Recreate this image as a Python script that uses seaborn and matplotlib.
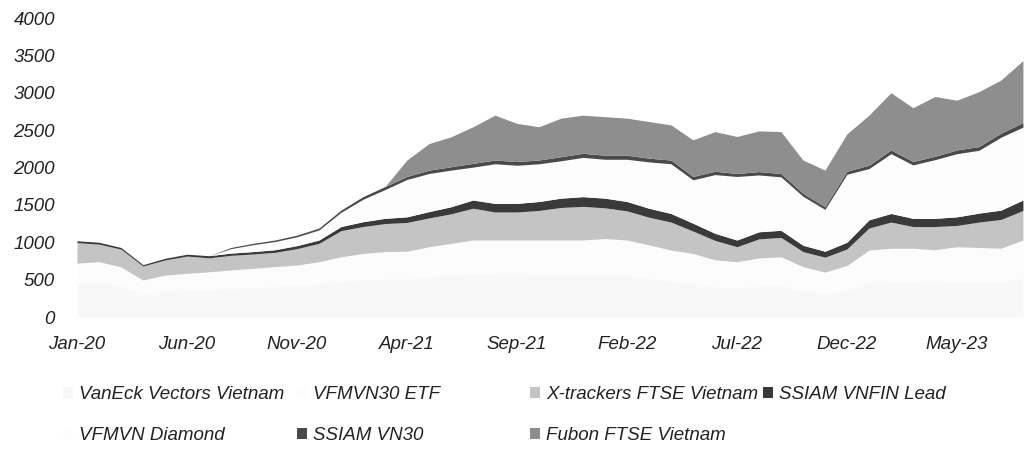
import numpy as np
import pandas as pd
import matplotlib
matplotlib.use("Agg")
import matplotlib.pyplot as plt
from matplotlib.patches import Patch
import seaborn as sns

# --- data (monthly, Jan-20 .. Aug-23) ---
funds = ["VanEck Vectors Vietnam", "VFMVN30 ETF", "X-trackers FTSE Vietnam",
         "SSIAM VNFIN Lead", "VFMVN Diamond", "SSIAM VN30", "Fubon FTSE Vietnam"]

tick_labels = ["Jan-20", "Jun-20", "Nov-20", "Apr-21", "Sep-21",
               "Feb-22", "Jul-22", "Dec-22", "May-23"]

vaneck = [450, 460, 420, 310, 345, 360, 370, 385, 395, 410, 420, 445, 480, 500, 510,
          510, 540, 560, 580, 575, 570, 565, 560, 555, 565, 550, 515, 475, 450, 405,
          390, 415, 420, 350, 310, 355, 460, 470, 470, 460, 480, 475, 470, 525]
vfmvn30 = [270, 280, 250, 185, 215, 225, 235, 245, 255, 265, 275, 295, 325, 350, 365,
           370, 400, 425, 450, 455, 460, 465, 470, 475, 485, 480, 450, 420, 400, 360,
           350, 375, 385, 325, 290, 335, 435, 450, 450, 440, 460, 455, 450, 505]
xtrackers = [275, 235, 238, 187, 203, 230, 187, 195, 193, 190, 220, 245, 350, 360, 375,
             385, 385, 395, 425, 375, 375, 395, 435, 450, 410, 390, 370, 375, 300, 260,
             200, 255, 260, 200, 200, 220, 295, 350, 290, 310, 285, 340, 385, 395]
vnfin = [25, 25, 22, 18, 22, 25, 28, 30, 32, 35, 40, 45, 55, 65, 70,
         75, 85, 95, 110, 115, 115, 120, 125, 130, 130, 125, 120, 115, 105, 95,
         90, 95, 95, 85, 80, 90, 110, 115, 110, 110, 115, 120, 125, 140]
diamond = [0, 0, 0, 0, 0, 0, 0, 60, 92, 110, 118, 135, 190, 300, 385,
           500, 510, 490, 440, 530, 510, 505, 500, 525, 520, 565, 620, 665, 580, 785,
           850, 760, 715, 655, 560, 910, 685, 800, 715, 785, 845, 840, 975, 975]
vn30 = [0, 0, 0, 0, 0, 0, 0, 15, 18, 20, 22, 25, 30, 35, 40,
        40, 45, 45, 50, 50, 50, 50, 55, 55, 55, 55, 50, 50, 45, 45,
        40, 45, 45, 40, 35, 40, 45, 50, 45, 45, 50, 50, 55, 60]
fubon = [0, 0, 0, 0, 0, 0, 0, 0, 0, 0, 0, 0, 0, 0, 0,
         220, 355, 400, 490, 600, 510, 445, 515, 510, 515, 495, 490, 470, 490, 530,
         495, 545, 560, 445, 490, 500, 670, 765, 720, 800, 665, 735, 710, 830]

colors = ["#f8f8f8", "#fcfcfc", "#c4c4c4", "#3a3a3a", "#fdfdfd", "#4a4a4a", "#8e8e8e"]

series = [vaneck, vfmvn30, xtrackers, vnfin, diamond, vn30, fubon]
rows = []
for name, vals in zip(funds, series):
    for i, v in enumerate(vals):
        rows.append({"month": i, "fund": name, "aum": v})
df = pd.DataFrame(rows)

sns.set_theme(style="white")
plt.rcParams["font.family"] = ["Liberation Sans", "DejaVu Sans"]
plt.rcParams["font.style"] = "italic"

fig = plt.figure(figsize=(10.26, 4.59), dpi=100)
ax = fig.add_axes([62 / 1026, 142 / 459, 964 / 1026, 299 / 459])

palette = dict(zip(funds, colors))
# seaborn stacks the first hue level on top, so feed the order reversed
sns.histplot(data=df, x="month", weights="aum", hue="fund", hue_order=funds[::-1],
             multiple="stack", discrete=True, element="poly", palette=palette,
             alpha=1, linewidth=0, legend=False, ax=ax)

ax.set_xlim(-0.68, 43.14)
ax.set_ylim(0, 4000)
ax.set_yticks(np.arange(0, 4001, 500))
ax.set_yticklabels([str(v) for v in range(0, 4001, 500)], fontsize=13.5, style="italic")
ax.set_xticks(range(0, 44, 5))
ax.set_xticklabels(tick_labels, fontsize=13.5, style="italic")
ax.tick_params(axis="x", length=0, pad=14, colors="#222222")
ax.tick_params(axis="y", length=0, pad=5, colors="#222222")
ax.set_xlabel("")
ax.set_ylabel("")
ax.grid(False)
sns.despine(ax=ax, left=True, bottom=True)

# legend laid out like the Excel one: four equal-width columns, two rows
handles = {n: Patch(facecolor=c, edgecolor="none") for n, c in zip(funds, colors)}
columns = [(63, [funds[0], funds[4]]), (297, [funds[1], funds[5]]),
           (530, [funds[2], funds[6]]), (763, [funds[3]])]
for x0, names in columns:
    leg = fig.legend([handles[n] for n in names], names, loc="upper left",
                     bbox_to_anchor=(x0 / 1026, 1 - 386 / 459), frameon=False,
                     borderpad=0, borderaxespad=0, handlelength=0.55, handleheight=0.55,
                     handletextpad=0.3, labelspacing=1.3,
                     prop={"size": 13.5, "style": "italic"})
    for t in leg.get_texts():
        t.set_color("#222222")

fig.savefig("out.png", dpi=100)
